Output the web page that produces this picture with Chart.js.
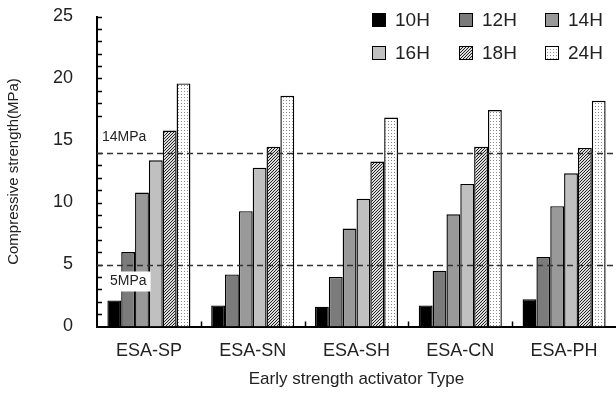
<!DOCTYPE html>
<html>
<head>
    <title>Early strength activator</title>
    <style>
        body { margin: 0; background: #fff; }
        #chart-container { width: 616px; height: 394px; }
    </style>
</head>
<body>
    <div id="chart-container">
        <canvas id="myChart" width="616" height="394"></canvas>
    </div>

    <script src="https://cdn.jsdelivr.net/npm/chart.js"></script>
    <script>
        // Chart data
        const categories = ['ESA-SP', 'ESA-SN', 'ESA-SH', 'ESA-CN', 'ESA-PH'];
        const seriesLabels = ['10H', '12H', '14H', '16H', '18H', '24H'];
        const h10 = [2.1, 1.7, 1.6, 1.7, 2.2];
        const h12 = [6.0, 4.2, 4.0, 4.5, 5.6];
        const h14 = [10.8, 9.3, 7.9, 9.05, 9.7];
        const h16 = [13.4, 12.8, 10.3, 11.5, 12.35];
        const h18 = [15.8, 14.5, 13.3, 14.5, 14.4];
        const h24 = [19.6, 18.6, 16.85, 17.45, 18.2];
        const refValues = [14, 5];
        const refLabels = ['14MPa', '5MPa'];

        const FONT = "'Liberation Sans', Arial, sans-serif";

        // Fill patterns for the hatched and dotted bars
        function makeHatch() {
            const c = document.createElement('canvas');
            c.width = 3; c.height = 3;
            const g = c.getContext('2d');
            g.fillStyle = '#dcdcdc';
            g.fillRect(0, 0, 3, 3);
            g.fillStyle = '#222222';
            // one-pixel diagonal running bottom-left to top-right
            g.fillRect(0, 2, 1, 1);
            g.fillRect(1, 1, 1, 1);
            g.fillRect(2, 0, 1, 1);
            return g.createPattern(c, 'repeat');
        }

        function makeDots() {
            const c = document.createElement('canvas');
            c.width = 3; c.height = 3;
            const g = c.getContext('2d');
            g.fillStyle = '#ffffff';
            g.fillRect(0, 0, 3, 3);
            g.fillStyle = '#8a8a8a';
            g.fillRect(1, 1, 1, 1);
            return g.createPattern(c, 'repeat');
        }

        const fills = ['#000000', '#7b7b7b', '#999999', '#c0c0c0', makeHatch(), makeDots()];
        const seriesValues = [h10, h12, h14, h16, h18, h24];

        const datasets = seriesLabels.map((label, i) => ({
            label: label,
            data: seriesValues[i],
            backgroundColor: fills[i],
            borderColor: '#000',
            borderWidth: 1.4,
            categoryPercentage: 0.8,
            barPercentage: 1.0
        }));

        // Inward ticks, dashed reference lines and the legend
        const extras = {
            id: 'extras',
            afterDatasetsDraw(chart) {
                const ctx = chart.ctx;
                const x = chart.scales.x;
                const y = chart.scales.y;
                const area = chart.chartArea;
                ctx.save();

                // y ticks every 1 MPa, pointing into the plot
                ctx.strokeStyle = '#000';
                ctx.lineWidth = 1.5;
                for (let v = 1; v <= 25; v++) {
                    const py = Math.round(y.getPixelForValue(v)) + 0.5;
                    ctx.beginPath();
                    ctx.moveTo(area.left, py);
                    ctx.lineTo(area.left + 5, py);
                    ctx.stroke();
                }

                // x ticks between the groups
                for (let i = 0; i < categories.length - 1; i++) {
                    const px = Math.round((x.getPixelForValue(i) + x.getPixelForValue(i + 1)) / 2) + 0.5;
                    ctx.beginPath();
                    ctx.moveTo(px, area.bottom);
                    ctx.lineTo(px, area.bottom - 5);
                    ctx.stroke();
                }

                // dashed reference lines
                ctx.strokeStyle = '#333';
                ctx.lineWidth = 1.5;
                ctx.setLineDash([6, 4]);
                refValues.forEach(v => {
                    const py = Math.round(y.getPixelForValue(v)) + 0.5;
                    ctx.beginPath();
                    ctx.moveTo(area.left, py);
                    ctx.lineTo(area.right, py);
                    ctx.stroke();
                });
                ctx.setLineDash([]);

                // labels for the reference lines
                ctx.font = '14px ' + FONT;
                ctx.textBaseline = 'middle';
                ctx.textAlign = 'left';
                const labelPos = [
                    { dx: 5, dy: -16 },
                    { dx: 13, dy: 17 }
                ];
                refValues.forEach((v, i) => {
                    const py = y.getPixelForValue(v) + labelPos[i].dy;
                    const tx = area.left + labelPos[i].dx;
                    const w = ctx.measureText(refLabels[i]).width;
                    ctx.fillStyle = '#fff';
                    ctx.fillRect(tx - 4, py - 10, w + 8, 20);
                    ctx.fillStyle = '#222';
                    ctx.fillText(refLabels[i], tx, py);
                });

                // legend: 3 columns, 2 rows, top right
                ctx.font = '19px ' + FONT;
                const colX = [chart.width - 244, chart.width - 157, chart.width - 71];
                const rowY = [20, 53];
                chart.data.datasets.forEach((ds, i) => {
                    const bx = colX[i % 3];
                    const by = rowY[Math.floor(i / 3)];
                    ctx.fillStyle = ds.backgroundColor;
                    ctx.fillRect(bx, by - 7, 14, 14);
                    ctx.strokeStyle = '#000';
                    ctx.lineWidth = 1;
                    ctx.strokeRect(bx + 0.5, by - 6.5, 13, 13);
                    ctx.fillStyle = '#222';
                    ctx.fillText(ds.label, bx + 23, by + 1);
                });

                ctx.restore();
            }
        };

        const ctx = document.getElementById('myChart').getContext('2d');
        const myChart = new Chart(ctx, {
            type: 'bar',
            data: {
                labels: categories,
                datasets: datasets
            },
            options: {
                responsive: false,
                animation: false,
                devicePixelRatio: 1,
                layout: {
                    padding: { top: 0, right: 0, bottom: 0, left: 0 }
                },
                plugins: {
                    legend: { display: false },
                    tooltip: { enabled: false }
                },
                scales: {
                    x: {
                        grid: { display: false, drawTicks: false },
                        border: { display: true, color: '#000', width: 2 },
                        ticks: {
                            color: '#222',
                            padding: 14,
                            font: { family: FONT, size: 18 }
                        },
                        title: {
                            display: true,
                            text: 'Early strength activator Type',
                            color: '#222',
                            padding: { top: 4, bottom: 4 },
                            font: { family: FONT, size: 17 }
                        },
                        afterFit(scale) {
                            scale.height = 67.5;
                        }
                    },
                    y: {
                        min: 0,
                        max: 25,
                        grid: { display: false, drawTicks: false },
                        border: { display: true, color: '#000', width: 2 },
                        ticks: {
                            stepSize: 5,
                            color: '#222',
                            padding: 24,
                            font: { family: FONT, size: 18 }
                        },
                        title: {
                            display: true,
                            text: 'Compressive strength(MPa)',
                            color: '#222',
                            padding: { top: 5, bottom: 4 },
                            font: { family: FONT, size: 15 }
                        },
                        afterFit(scale) {
                            scale.width = 97;
                            // keep the top of the axis close to the canvas edge
                            scale.paddingTop = 16.5;
                            scale.paddingBottom = 0;
                        }
                    }
                }
            },
            plugins: [extras]
        });
    </script>
</body>
</html>
